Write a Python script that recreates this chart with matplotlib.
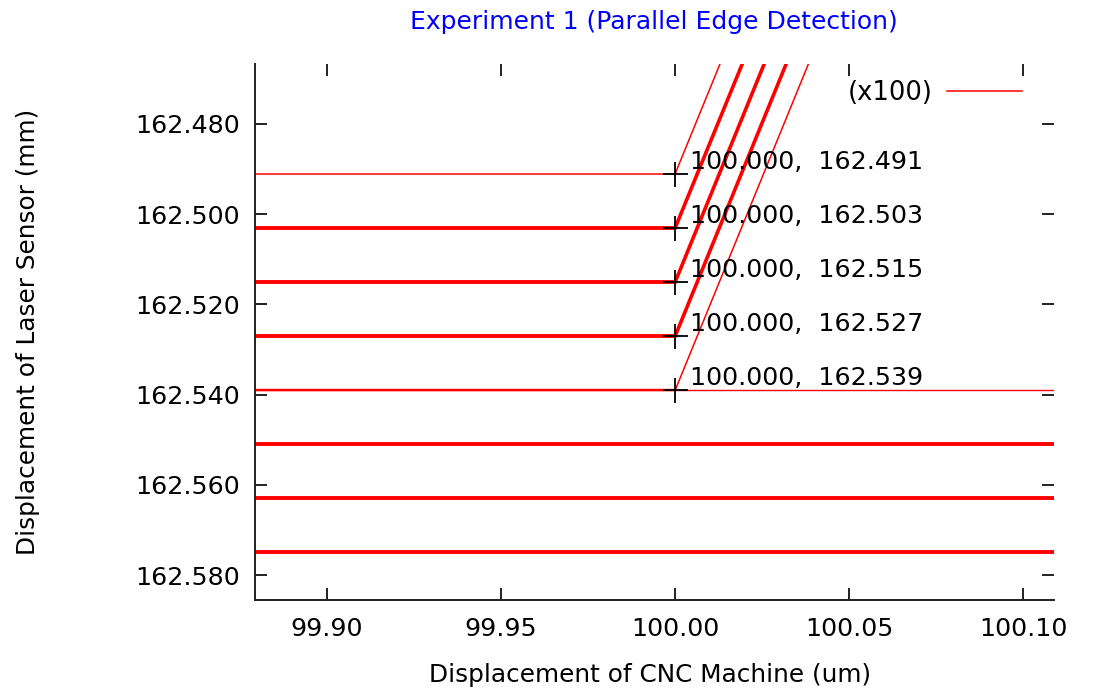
import matplotlib
matplotlib.use("Agg")
import matplotlib.pyplot as plt

# edge-detection passes: flat scan up to the edge, then the ramp (x100 scale)
scan_start_x = 99.85
edge_x = 100.000
edge_y = [162.491, 162.503, 162.515, 162.527, 162.539]
ramp_end_x = [100.0164, 100.0228, 100.0291, 100.0354, 100.0418]
ramp_end_y = 162.460
pass_width = [1.1, 2.8, 2.8, 2.8, 1.7]
ramp_width = [1.1, 2.6, 2.6, 2.6, 1.1]

# reference levels that run across the whole scan
level_y = [162.539, 162.551, 162.563, 162.575]
level_width = [1.0, 2.8, 2.8, 2.8]
scan_end_x = 100.15

x_ticks = [99.90, 99.95, 100.00, 100.05, 100.10]
y_ticks = [162.48, 162.50, 162.52, 162.54, 162.56, 162.58]

fig = plt.figure(figsize=(10.94, 6.89), dpi=100)
ax = fig.add_axes([255 / 1094, 1 - 600 / 689, (1054 - 255) / 1094, (600 - 64) / 689])

red = "#ff0000"
for i, y in enumerate(edge_y):
    ax.plot([scan_start_x, edge_x], [y, y], color=red, lw=pass_width[i], solid_capstyle="butt")
    ax.plot([edge_x, ramp_end_x[i]], [y, ramp_end_y], color=red, lw=ramp_width[i],
            label="(x100)" if i == 0 else None)

for y, w in zip(level_y, level_width):
    ax.plot([scan_start_x, scan_end_x], [y, y], color=red, lw=w, solid_capstyle="butt")

# edge points with their coordinates
ax.plot([edge_x] * len(edge_y), edge_y, linestyle="none", marker="+",
        markersize=18, markeredgewidth=1.3, color="black", zorder=5)
for y in edge_y:
    ax.annotate(f"{edge_x:.3f},  {y:.3f}", (edge_x, y), xytext=(15, 12),
                textcoords="offset pixels", ha="left", va="center", fontsize=18.2)

ax.set_xlim(99.8793, 100.1088)
ax.set_ylim(162.58554, 162.4667)
ax.set_xticks(x_ticks)
ax.set_yticks(y_ticks)
ax.set_xticklabels([f"{v:.2f}" for v in x_ticks])
ax.set_yticklabels([f"{v:.3f}" for v in y_ticks])

for side in ("top", "right"):
    ax.spines[side].set_visible(False)
for side in ("left", "bottom"):
    ax.spines[side].set_linewidth(1.4)
    ax.spines[side].set_color("#222222")
ax.tick_params(direction="in", top=True, right=True, length=8.5, width=1.4,
               color="#222222", labelsize=18.3)
ax.tick_params(axis="y", pad=11)
ax.tick_params(axis="x", pad=12)

ax.set_xlabel("Displacement of CNC Machine (um)", fontsize=17.8)
ax.set_ylabel("Displacement of Laser Sensor (mm)", fontsize=17.8)
ax.xaxis.set_label_coords(0.494, (600 - 675) / 536)
ax.xaxis.label.set_va("center")
ax.yaxis.set_label_coords((28 - 255) / 799, (600 - 332) / 536)
ax.yaxis.label.set_va("center")
fig.text(654 / 1094, 1 - 22 / 689, "Experiment 1 (Parallel Edge Detection)",
         color="#0000ff", fontsize=18, ha="center", va="center")

ax.legend(loc="center right", frameon=False, markerfirst=False, fontsize=18.5,
          handlelength=2.92, handletextpad=0.55, borderpad=0, borderaxespad=0,
          bbox_to_anchor=((1022 - 255) / 799, (600 - 93) / 536))

fig.savefig("out.png", dpi=100)
